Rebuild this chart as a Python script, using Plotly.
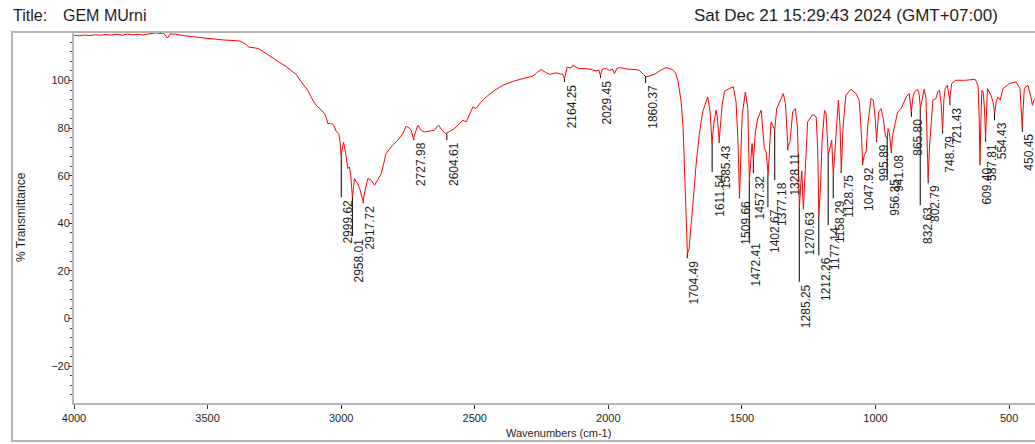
import plotly.graph_objects as go

# ---- spectrum (wavenumber cm-1, %T) ----
wavenumbers = [4000, 3980, 3960, 3940, 3920, 3900, 3880, 3860, 3840, 3820, 3800, 3780, 3760, 3740, 3720, 3700,
               3690, 3680, 3665, 3650, 3640, 3620, 3600, 3580, 3560, 3540, 3520, 3500, 3480, 3460, 3440, 3420,
               3400, 3380, 3360, 3345, 3330, 3310, 3290, 3270, 3250, 3230, 3210, 3190, 3168, 3150, 3125, 3110,
               3094, 3078, 3062, 3055, 3050, 3040, 3031, 3025, 3019, 3009, 3004, 3000, 2996, 2991, 2984, 2978,
               2975, 2969, 2964, 2958, 2954, 2950, 2944, 2938, 2929, 2918, 2910, 2900, 2888, 2875, 2862, 2850,
               2840, 2832, 2810, 2788, 2770, 2757, 2745, 2738, 2730, 2720, 2713, 2700, 2688, 2665, 2651, 2640,
               2635, 2625, 2610, 2595, 2576, 2560, 2545, 2532, 2520, 2507, 2495, 2480, 2457, 2430, 2395, 2360,
               2320, 2283, 2265, 2251, 2235, 2220, 2195, 2177, 2170, 2164, 2158, 2154, 2140, 2133, 2110, 2083,
               2060, 2046, 2035, 2030, 2022, 2008, 1995, 1985, 1977, 1968, 1958, 1930, 1900, 1884, 1869, 1859,
               1845, 1827, 1805, 1784, 1760, 1748, 1740, 1728, 1720, 1715, 1710, 1704, 1698, 1690, 1682, 1672,
               1660, 1647, 1628, 1619, 1612, 1606, 1597, 1593, 1585, 1574, 1565, 1547, 1532, 1522, 1515, 1509,
               1503, 1499, 1487, 1478, 1472, 1466, 1462, 1457, 1450, 1441, 1428, 1416, 1409, 1402, 1396, 1391,
               1385, 1377, 1370, 1353, 1345, 1337, 1328, 1320, 1310, 1300, 1292, 1288, 1285, 1280, 1276, 1270,
               1264, 1258, 1254, 1235, 1222, 1216, 1212, 1206, 1200, 1191, 1185, 1177, 1170, 1164, 1158, 1148,
               1139, 1133, 1128, 1121, 1111, 1092, 1073, 1061, 1054, 1048, 1042, 1035, 1029, 1017, 1008, 1001,
               996, 988, 979, 971, 962, 956, 953, 948, 941, 936, 917, 904, 885, 874, 866, 860,
               854, 842, 836, 832, 826, 818, 811, 806, 803, 798, 793, 785, 774, 767, 761, 754,
               749, 744, 739, 731, 722, 715, 700, 663, 627, 616, 612, 609, 605, 602, 597, 592,
               588, 584, 581, 568, 560, 554, 548, 542, 533, 523, 499, 474, 459, 451, 447, 443,
               430, 418, 413, 407, 403]
transmittance = [119.0, 118.8, 119.1, 118.9, 119.2, 119.0, 119.3, 119.1, 119.4, 119.0, 119.5, 119.2, 119.4, 119.1, 119.6, 119.9,
                 120.0, 119.7, 119.9, 117.8, 119.6, 119.4, 119.0, 118.6, 118.4, 118.2, 117.9, 117.6, 117.4, 117.2, 117.0, 116.9,
                 116.8, 116.6, 115.5, 114.0, 113.8, 113.4, 112.0, 110.5, 108.8, 107.5, 106.2, 104.5, 102.5, 99.5, 95.9, 92.5,
                 89.6, 88.0, 86.1, 84.0, 81.9, 82.0, 81.6, 80.5, 78.7, 77.7, 74.0, 68.6, 72.0, 74.0, 70.0, 66.0,
                 63.0, 63.7, 60.0, 51.0, 56.0, 58.8, 57.5, 56.7, 53.9, 49.4, 54.0, 58.8, 58.1, 56.0, 58.5, 60.9,
                 65.5, 69.3, 72.5, 74.9, 77.5, 80.8, 80.0, 79.1, 75.6, 79.5, 81.2, 79.0, 78.4, 78.8, 79.1, 80.8,
                 81.2, 79.5, 77.7, 78.5, 79.8, 81.5, 83.3, 82.6, 85.5, 88.9, 88.2, 90.5, 93.1, 95.5, 98.0, 99.5,
                 100.8, 101.8, 103.5, 104.6, 103.4, 102.6, 103.2, 102.9, 102.5, 100.8, 104.5, 105.7, 105.2, 106.4, 105.0, 105.0,
                 104.5, 104.0, 104.4, 102.2, 104.8, 105.0, 104.2, 104.8, 102.9, 105.0, 105.4, 104.8, 104.6, 104.3, 102.6, 101.5,
                 102.0, 102.6, 104.3, 105.4, 104.6, 103.0, 100.1, 91.7, 80.0, 63.7, 45.0, 27.2, 29.0, 38.0, 50.0, 64.0,
                 77.0, 86.8, 93.1, 86.8, 73.5, 81.2, 87.5, 85.4, 74.9, 89.6, 95.5, 96.6, 97.3, 91.0, 75.0, 51.1,
                 70.0, 85.4, 95.2, 88.2, 58.1, 68.0, 73.5, 66.5, 78.0, 84.0, 87.5, 71.4, 70.0, 60.5, 75.0, 82.6,
                 81.2, 79.1, 88.2, 92.4, 94.5, 90.3, 72.1, 74.2, 86.8, 88.2, 80.0, 62.0, 46.5, 56.0, 62.0, 46.2,
                 60.0, 78.0, 82.6, 85.7, 84.7, 70.0, 43.4, 55.0, 74.2, 87.5, 86.1, 68.6, 72.8, 74.9, 60.2, 78.4,
                 91.7, 81.2, 62.3, 81.2, 93.8, 96.3, 94.5, 91.7, 80.0, 65.1, 68.6, 70.0, 81.2, 92.4, 91.7, 84.0,
                 74.9, 86.8, 88.2, 84.0, 76.3, 76.0, 79.8, 78.0, 70.0, 77.0, 86.8, 88.2, 93.1, 94.5, 86.8, 93.0,
                 95.2, 96.3, 93.8, 88.2, 92.4, 96.3, 92.4, 75.0, 58.8, 72.0, 81.2, 91.7, 92.4, 95.2, 95.9, 90.0,
                 79.1, 92.0, 96.6, 98.0, 91.7, 98.7, 100.1, 100.1, 100.5, 98.0, 85.0, 65.1, 85.0, 95.9, 95.2, 88.0,
                 75.6, 92.0, 96.6, 93.8, 91.0, 86.1, 91.0, 93.1, 91.7, 96.6, 98.7, 99.4, 96.6, 80.5, 90.0, 96.6,
                 98.0, 93.0, 89.6, 91.7, 92.0]

# ---- labelled peaks ----
peak_labels = ["2999.62", "2958.01", "2917.72", "2727.98", "2604.61", "2164.25", "2029.45", "1860.37",
               "1704.49", "1611.54", "1585.43", "1509.66", "1472.41", "1457.32", "1402.67", "1377.18",
               "1328.11", "1285.25", "1270.63", "1212.26", "1177.14", "1158.29", "1128.75", "1047.92",
               "995.89", "956.35", "941.08", "865.80", "832.63", "802.79", "748.79", "721.43",
               "609.40", "587.81", "554.43", "450.45"]
peak_T = [68.6, 51.0, 49.4, 75.6, 77.7, 100.8, 102.2, 101.5,
          27.2, 73.5, 74.9, 51.1, 58.1, 66.5, 60.5, 79.1,
          72.1, 46.5, 46.2, 43.4, 68.6, 60.2, 62.3, 65.1,
          74.9, 76.3, 70.0, 86.8, 88.2, 58.8, 79.1, 91.7,
          65.1, 75.6, 86.1, 80.5]
label_T = [50.9, 34.6, 48.4, 74.9, 74.9, 99.4, 101.0, 98.9,
           25.3, 61.5, 73.7, 50.5, 32.9, 61.1, 46.8, 58.1,
           70.7, 15.4, 45.9, 26.6, 39.2, 50.5, 61.1, 64.4,
           74.1, 59.4, 69.5, 84.7, 47.6, 56.8, 77.7, 89.6,
           64.4, 74.2, 83.3, 78.4]

title_left = "Title:"
title_name = "GEM MUrni"
date_text = "Sat Dec 21 15:29:43 2024 (GMT+07:00)"
x_title = "Wavenumbers (cm-1)"
y_title = "% Transmittance"

# ---- geometry (pixels) ----
W, H = 1035, 444
ML, MR, MT, MB = 74, 0, 33, 41
PW, PH = W - ML - MR, H - MT - MB


def px(xp):
    return (xp - ML) / PW


def py(yp):
    return (H - MB - yp) / PH


FONT = "Arial, Liberation Sans, sans-serif"
TXT = "#1e1e1e"

fig = go.Figure()
fig.add_trace(go.Scatter(x=wavenumbers, y=transmittance, mode="lines",
                         line=dict(color="#ff0000", width=1), hoverinfo="skip"))

lx, ly = [], []
for w, p, l in zip(peak_labels, peak_T, label_T):
    wv = float(w)
    lx += [wv, wv, None]
    ly += [p, l, None]
fig.add_trace(go.Scatter(x=lx, y=ly, mode="lines", line=dict(color="#000000", width=1),
                         hoverinfo="skip"))

annotations = []
for w, l in zip(peak_labels, label_T):
    annotations.append(dict(x=float(w), y=l, xref="x", yref="y", text=w, textangle=-90,
                            showarrow=False, xanchor="center", yanchor="top", xshift=7,
                            font=dict(family=FONT, size=12, color=TXT)))

annotations += [
    dict(x=px(11), y=py(15), xref="paper", yref="paper", text=title_left, showarrow=False,
         xanchor="left", yanchor="middle", font=dict(family=FONT, size=16, color=TXT)),
    dict(x=px(61), y=py(15), xref="paper", yref="paper", text=title_name, showarrow=False,
         xanchor="left", yanchor="middle", font=dict(family=FONT, size=16, color=TXT)),
    dict(x=px(1000), y=py(15), xref="paper", yref="paper", text=date_text, showarrow=False,
         xanchor="right", yanchor="middle", font=dict(family=FONT, size=17, color=TXT)),
    dict(x=px(558), y=py(433), xref="paper", yref="paper", text=x_title, showarrow=False,
         xanchor="center", yanchor="middle", font=dict(family=FONT, size=11, color=TXT)),
    dict(x=px(21), y=py(217), xref="paper", yref="paper", text=y_title, showarrow=False,
         textangle=-90, xanchor="center", yanchor="middle", font=dict(family=FONT, size=12, color=TXT)),
]

shapes = [
    dict(type="rect", xref="paper", yref="paper", x0=px(12), x1=px(1045), y0=py(441), y1=py(32),
         line=dict(color="#b4b4b4", width=2), layer="below"),
]

fig.update_layout(
    width=W, height=H,
    margin=dict(l=ML, r=MR, t=MT, b=MB, pad=0),
    paper_bgcolor="white", plot_bgcolor="white",
    showlegend=False,
    annotations=annotations,
    shapes=shapes,
    xaxis=dict(range=[4000, 403], dtick=500, tick0=0, showgrid=False, zeroline=False,
               showline=True, linecolor="#b8b8b8", linewidth=2,
               ticks="outside", ticklen=4, tickwidth=1, tickcolor="#333333",
               tickfont=dict(family=FONT, size=11, color=TXT)),
    yaxis=dict(range=[-35.5, 119.95], dtick=20, tick0=0, showgrid=False, zeroline=False,
               showline=True, linecolor="#b8b8b8", linewidth=2,
               ticks="outside", ticklen=3, tickwidth=1, tickcolor="#333333",
               ticklabelstandoff=-3,
               minor=dict(dtick=4, tick0=0, ticks="outside", ticklen=2, tickcolor="#444444", tickwidth=1),
               tickfont=dict(family=FONT, size=11, color=TXT)),
)

fig.write_html("out.html")
